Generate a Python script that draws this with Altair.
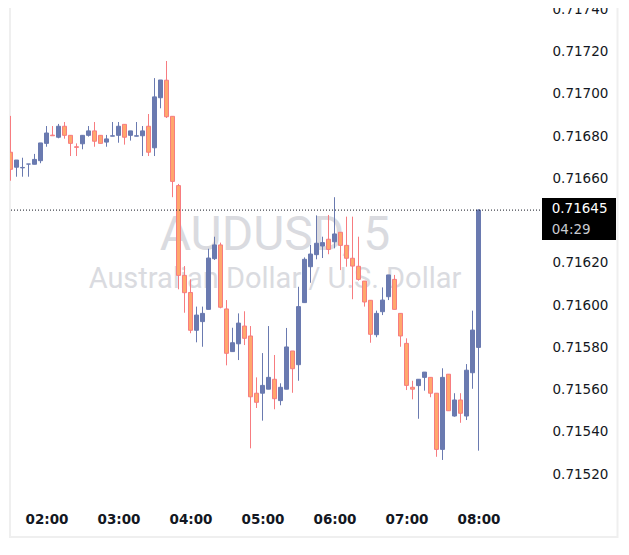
import altair as alt
import pandas as pd

# 5-minute AUDUSD candles, 01:30 .. 08:00
start_time = "2024-01-01 01:30"
n_candles = 79

opens = [0.716724, 0.716653, 0.716650, 0.716668, 0.716667, 0.716684, 0.716766, 0.716805, 0.716795, 0.716847,
         0.716804, 0.716750, 0.716764, 0.716804, 0.716825, 0.716804, 0.716772, 0.716800, 0.716804, 0.716856,
         0.716804, 0.716800, 0.716802, 0.716847, 0.716745, 0.716982, 0.717065, 0.716894, 0.716566, 0.716141,
         0.716060, 0.715881, 0.715922, 0.715980, 0.716220, 0.716285, 0.715982, 0.715780, 0.715817, 0.715901,
         0.715854, 0.715583, 0.715583, 0.715602, 0.715649, 0.715548, 0.715602, 0.715783, 0.715718, 0.716012,
         0.716182, 0.716239, 0.716280, 0.716312, 0.716300, 0.716345, 0.716283, 0.716222, 0.716184, 0.716114,
         0.716023, 0.715860, 0.715969, 0.716040, 0.716122, 0.715961, 0.715819, 0.715611, 0.715619, 0.715658,
         0.715658, 0.715583, 0.715317, 0.715673, 0.715475, 0.715551, 0.715475, 0.715680, 0.715800]
highs = [0.716896, 0.716687, 0.716698, 0.716668, 0.716716, 0.716768, 0.716848, 0.716848, 0.716858, 0.716867,
         0.716804, 0.716766, 0.716804, 0.716848, 0.716867, 0.716804, 0.716806, 0.716867, 0.716867, 0.716856,
         0.716825, 0.716867, 0.716848, 0.716905, 0.717075, 0.717066, 0.717156, 0.716894, 0.716574, 0.716185,
         0.716122, 0.715993, 0.715993, 0.716267, 0.716324, 0.716296, 0.716024, 0.715893, 0.715961, 0.715971,
         0.715901, 0.715658, 0.715773, 0.715901, 0.715764, 0.715630, 0.715892, 0.715783, 0.716087, 0.716226,
         0.716285, 0.716425, 0.716324, 0.716427, 0.716511, 0.716345, 0.716419, 0.716419, 0.716324, 0.716114,
         0.716023, 0.715974, 0.716084, 0.716143, 0.716143, 0.715961, 0.715843, 0.715642, 0.715649, 0.715683,
         0.715658, 0.715583, 0.715701, 0.715673, 0.715583, 0.715583, 0.715721, 0.715974, 0.716454]
lows = [0.716589, 0.716608, 0.716608, 0.716608, 0.716667, 0.716672, 0.716750, 0.716802, 0.716790, 0.716788,
        0.716706, 0.716706, 0.716738, 0.716798, 0.716750, 0.716766, 0.716750, 0.716800, 0.716769, 0.716760,
        0.716779, 0.716800, 0.716706, 0.716706, 0.716706, 0.716932, 0.716886, 0.716511, 0.716075, 0.715964,
        0.715867, 0.715824, 0.715803, 0.715980, 0.716214, 0.715985, 0.715715, 0.715780, 0.715740, 0.715811,
        0.715322, 0.715513, 0.715453, 0.715602, 0.715507, 0.715526, 0.715602, 0.715585, 0.715642, 0.716012,
        0.716106, 0.716217, 0.716223, 0.716241, 0.716269, 0.716166, 0.716182, 0.716028, 0.716116, 0.715993,
        0.715822, 0.715848, 0.715953, 0.716024, 0.715980, 0.715803, 0.715598, 0.715554, 0.715462, 0.715595,
        0.715564, 0.715282, 0.715267, 0.715500, 0.715472, 0.715443, 0.715456, 0.715604, 0.715311]
closes = [0.716643, 0.716687, 0.716652, 0.716668, 0.716690, 0.716768, 0.716815, 0.716802, 0.716847, 0.716804,
          0.716766, 0.716747, 0.716804, 0.716825, 0.716776, 0.716766, 0.716787, 0.716802, 0.716847, 0.716795,
          0.716825, 0.716802, 0.716825, 0.716724, 0.716986, 0.717066, 0.716892, 0.716586, 0.716141, 0.716059,
          0.715881, 0.715953, 0.715961, 0.716223, 0.716285, 0.715990, 0.715772, 0.715822, 0.715915, 0.715843,
          0.715566, 0.715540, 0.715620, 0.715658, 0.715557, 0.715611, 0.715802, 0.715699, 0.715993, 0.716217,
          0.716242, 0.716293, 0.716296, 0.716264, 0.716337, 0.716283, 0.716222, 0.716185, 0.716122, 0.716015,
          0.715862, 0.715961, 0.716024, 0.716143, 0.715980, 0.715854, 0.715620, 0.715602, 0.715649, 0.715683,
          0.715583, 0.715317, 0.715658, 0.715500, 0.715551, 0.715488, 0.715692, 0.715882, 0.716450]

y_ticks = [0.7152, 0.7154, 0.7156, 0.7158, 0.7160, 0.7162, 0.7166, 0.7168, 0.7170, 0.7172, 0.7174]
x_ticks = [120, 180, 240, 300, 360, 420, 480]   # minutes after midnight: 02:00 .. 08:00
last_price = 0.71645
last_price_text = "0.71645"
countdown_text = "04:29"
title_text = "AUDUSD, 5"
subtitle_text = "Australian Dollar / U.S. Dollar"

BLUE = "#6a7ab0"
PINK = "#f77c80"
ORANGE = "#ffa76c"

times = pd.date_range(start_time, periods=n_candles, freq="5min")
df = pd.DataFrame({
    "minute": times.hour * 60 + times.minute,
    "open": opens, "high": highs, "low": lows, "close": closes,
})
df["dir"] = ["up" if c >= o else "down" for o, c in zip(opens, closes)]

W, H = 530, 492
xscale = alt.Scale(domain=[89.5833, 531.25], nice=False, zero=False, padding=0)
yscale = alt.Scale(domain=[0.7150774, 0.7174069], nice=False, zero=False, padding=0)

xaxis = alt.Axis(values=x_ticks, title=None, grid=False, domain=False, ticks=False, tickSize=0,
                 labelExpr="(floor(datum.value/60) < 10 ? '0' : '') + floor(datum.value/60) + ':00'",
                 labelFont="DejaVu Sans", labelFontSize=13.5, labelFontWeight="bold",
                 labelColor="#131722", labelPadding=12, labelFlush=False)
yaxis = alt.Axis(values=y_ticks, format=".5f", orient="right", title=None, grid=False, domain=False,
                 ticks=False, tickSize=0, labelFont="DejaVu Sans", labelFontSize=13.5,
                 labelColor="#131722", labelPadding=12, labelOverlap=False)

base = alt.Chart(df)
fill_scale = alt.Scale(domain=["up", "down"], range=[BLUE, ORANGE])
stroke_scale = alt.Scale(domain=["up", "down"], range=[BLUE, PINK])

wicks = base.mark_rule(strokeWidth=1, clip=True).encode(
    x=alt.X("minute:Q", scale=xscale, axis=xaxis),
    y=alt.Y("low:Q", scale=yscale, axis=yaxis),
    y2="high:Q",
    stroke=alt.Stroke("dir:N", scale=stroke_scale, legend=None),
)
bodies = base.mark_bar(width=4, strokeWidth=1, clip=True).encode(
    x=alt.X("minute:Q", scale=xscale, axis=xaxis),
    y=alt.Y("open:Q", scale=yscale, axis=yaxis),
    y2="close:Q",
    color=alt.Color("dir:N", scale=fill_scale, legend=None),
    stroke=alt.Stroke("dir:N", scale=stroke_scale, legend=None),
)

one = alt.Chart(pd.DataFrame({"a": [0]}))
frame = one.mark_rect(fillOpacity=0, stroke="#efefef", strokeWidth=2, clip=False).encode(
    x=alt.value(0), x2=alt.value(607.5), y=alt.value(-4), y2=alt.value(529))
wm1 = one.mark_text(text=title_text, font="Roboto", fontSize=48, color="#dadbe0",
                    align="center", baseline="alphabetic").encode(x=alt.value(265), y=alt.value(242))
wm2 = one.mark_text(text=subtitle_text, font="Roboto", fontSize=29, color="#dadbe0",
                    align="center", baseline="alphabetic").encode(x=alt.value(265), y=alt.value(280))
price_line = one.mark_rule(color="#131722", strokeWidth=1, strokeDash=[1, 2]).encode(
    y=alt.datum(last_price, scale=yscale))
box = one.mark_rect(color="#000000", clip=False).encode(
    x=alt.value(532), x2=alt.value(606), y=alt.value(190), y2=alt.value(232))
t1 = one.mark_text(text=last_price_text, font="DejaVu Sans", fontSize=13.5, color="#ffffff",
                   align="left", baseline="middle", clip=False).encode(x=alt.value(541.7), y=alt.value(200.5))
t2 = one.mark_text(text=countdown_text, font="DejaVu Sans", fontSize=13.5, color="#c9cbd1",
                   align="left", baseline="middle", clip=False).encode(x=alt.value(541.7), y=alt.value(222))

chart = alt.layer(frame, wm1, wm2, wicks, bodies, price_line, box, t1, t2).properties(
    width=W, height=H,
    autosize=alt.AutoSizeParams(type="none"),
    padding={"left": 2, "top": 0, "right": 80, "bottom": 40},
    background="#ffffff",
).configure_view(stroke=None)

chart.save("out.html", embed_options={"renderer": "svg", "actions": False})
